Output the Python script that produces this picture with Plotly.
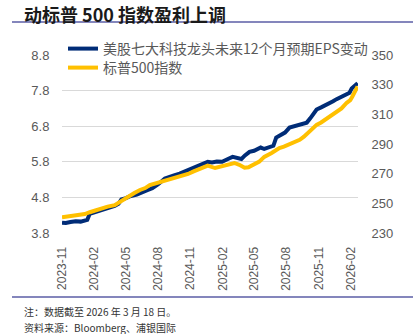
import plotly.graph_objects as go

# ---- data ----
eps_dates = ["2023-11-01", "2023-11-12", "2023-11-25", "2023-12-10", "2023-12-24", "2024-01-05",
             "2024-01-12", "2024-01-19", "2024-02-01", "2024-02-15", "2024-03-01", "2024-03-15",
             "2024-03-30", "2024-04-10", "2024-04-18", "2024-05-01", "2024-05-15", "2024-06-01",
             "2024-06-15", "2024-07-01", "2024-07-15", "2024-08-01", "2024-08-20", "2024-09-01",
             "2024-09-15", "2024-10-01", "2024-10-15", "2024-11-01", "2024-11-15", "2024-12-01",
             "2024-12-20", "2025-01-01", "2025-01-15", "2025-01-30", "2025-02-10", "2025-02-20",
             "2025-03-01", "2025-03-12", "2025-03-26", "2025-04-05", "2025-04-18", "2025-05-01",
             "2025-05-10", "2025-05-20", "2025-05-30", "2025-06-12", "2025-06-25", "2025-07-03",
             "2025-07-15", "2025-07-28", "2025-08-10", "2025-08-22", "2025-09-05", "2025-09-18",
             "2025-09-28", "2025-10-08", "2025-10-18", "2025-10-26", "2025-11-08", "2025-11-20",
             "2025-12-02", "2025-12-12", "2025-12-22", "2025-12-31", "2026-01-10", "2026-01-20",
             "2026-01-28", "2026-02-03", "2026-02-10", "2026-02-16", "2026-02-20"]
eps_values = [4.09, 4.08, 4.11, 4.13, 4.12, 4.16, 4.17, 4.34, 4.38, 4.42, 4.47, 4.50,
              4.56, 4.62, 4.74, 4.78, 4.84, 4.88, 4.95, 5.00, 5.06, 5.17, 5.33, 5.36,
              5.42, 5.47, 5.53, 5.60, 5.66, 5.72, 5.80, 5.78, 5.81, 5.80, 5.84, 5.90,
              5.94, 5.92, 5.88, 5.98, 6.08, 6.11, 6.16, 6.20, 6.16, 6.20, 6.25, 6.48,
              6.55, 6.62, 6.76, 6.79, 6.83, 6.88, 6.90, 7.02, 7.18, 7.27, 7.33, 7.38,
              7.46, 7.50, 7.56, 7.60, 7.64, 7.69, 7.74, 7.86, 7.92, 7.96, 8.01]

spx_dates = ["2023-11-01", "2023-11-15", "2023-12-01", "2023-12-20", "2024-01-05", "2024-01-19",
             "2024-02-05", "2024-02-20", "2024-03-10", "2024-03-30", "2024-04-20", "2024-05-11",
             "2024-05-25", "2024-06-10", "2024-06-25", "2024-07-08", "2024-07-25", "2024-08-20",
             "2024-09-01", "2024-09-15", "2024-10-10", "2024-10-25", "2024-11-10", "2024-11-25",
             "2024-12-10", "2024-12-20", "2025-01-10", "2025-01-25", "2025-02-05", "2025-02-20",
             "2025-03-06", "2025-03-20", "2025-04-04", "2025-04-15", "2025-04-25", "2025-05-05",
             "2025-05-16", "2025-05-30", "2025-06-10", "2025-06-20", "2025-07-01", "2025-07-12",
             "2025-07-25", "2025-08-10", "2025-08-25", "2025-09-08", "2025-09-20", "2025-10-01",
             "2025-10-12", "2025-10-26", "2025-11-08", "2025-11-20", "2025-12-05", "2025-12-22",
             "2026-01-05", "2026-01-20", "2026-01-30", "2026-02-05", "2026-02-12", "2026-02-20"]
spx_values = [240.6, 241.0, 241.8, 242.5, 242.8, 244.0, 245.5, 246.5, 247.8, 248.8, 252.0, 255.5,
              257.0, 259.0, 260.3, 262.3, 263.5, 265.2, 265.9, 266.8, 268.4, 269.8, 271.5, 272.8,
              274.2, 275.4, 273.8, 274.6, 275.5, 276.2, 277.2, 276.0, 274.0, 274.3, 275.5, 276.8,
              278.1, 281.3, 282.4, 284.0, 285.6, 287.3, 288.2, 289.8, 291.0, 292.8, 294.9, 297.5,
              300.0, 302.9, 304.5, 306.5, 308.5, 311.0, 314.0, 317.8, 319.5, 322.0, 325.5, 328.8]

tick_vals = ["2023-11-01", "2024-02-01", "2024-05-01", "2024-08-01", "2024-11-01",
             "2025-02-01", "2025-05-01", "2025-08-01", "2025-11-01", "2026-02-01"]
tick_text = ["2023-11", "2024-02", "2024-05", "2024-08", "2024-11",
             "2025-02", "2025-05", "2025-08", "2025-11", "2026-02"]

left_ticks = [3.8, 4.8, 5.8, 6.8, 7.8, 8.8]
right_ticks = [230, 250, 270, 290, 310, 330, 350]

name_eps = "美股七大科技龙头未来12个月预期EPS变动"
name_spx = "标普500指数"
title_text = "动标普 500 指数盈利上调"
note_text = "注：数据截至 2026 年 3 月 18 日。"
source_text = "资料来源：Bloomberg、浦银国际"

BLUE = "#002C77"
YELLOW = "#FFC000"
GRAY = "#595959"
RULE = "#5B5EA6"
FONT = "Noto Sans CJK SC"

fig = go.Figure()
fig.add_trace(go.Scatter(x=eps_dates, y=eps_values, name=name_eps, mode="lines",
                         line=dict(color=BLUE, width=4), yaxis="y", legend="legend"))
fig.add_trace(go.Scatter(x=spx_dates, y=spx_values, name=name_spx, mode="lines",
                         line=dict(color=YELLOW, width=4), yaxis="y2", legend="legend2"))

W, H = 419, 334
L, R, T, B = 62, 419 - 358, 55, 334 - 233
PW, PH = W - L - R, H - T - B


def px(x):
    return (x - L) / PW


def py(y):
    return (H - B - y) / PH


legend_common = dict(xanchor="left", yanchor="top", bgcolor="rgba(0,0,0,0)",
                     font=dict(size=14, color=GRAY, family=FONT))

fig.update_layout(
    width=W, height=H,
    margin=dict(l=L, r=R, t=T, b=B, autoexpand=False),
    paper_bgcolor="white", plot_bgcolor="white",
    font=dict(family=FONT, color=GRAY, size=12),
    showlegend=True,
    legend=dict(x=px(63), y=py(33), **legend_common),
    legend2=dict(x=px(63), y=py(52), **legend_common),
    xaxis=dict(type="date", range=["2023-11-01", "2026-02-21"],
               tickmode="array", tickvals=tick_vals, ticktext=tick_text, tickangle=-90,
               showgrid=False, zeroline=False, showline=False, automargin=False,
               ticks="outside", ticklen=8, tickcolor="rgba(0,0,0,0)",
               tickfont=dict(size=12, color=GRAY, family="Liberation Sans")),
    yaxis=dict(range=[3.8, 8.8], tickmode="array", tickvals=left_ticks,
               ticktext=[f"{v:.1f}" for v in left_ticks],
               showgrid=True, gridcolor="#D9D9D9", gridwidth=1, zeroline=False,
               automargin=False,
               ticks="outside", ticklen=9, tickcolor="rgba(0,0,0,0)",
               tickfont=dict(size=13, color=GRAY, family="Liberation Sans")),
    yaxis2=dict(range=[230, 350], tickmode="array", tickvals=right_ticks,
                overlaying="y", side="right", anchor="x",
                showgrid=False, zeroline=False, automargin=False,
                ticks="outside", ticklen=10, tickcolor="rgba(0,0,0,0)",
                tickfont=dict(size=13, color=GRAY, family="Liberation Sans")),
)

# title, rules and footnotes
fig.add_annotation(text="<b>" + title_text + "</b>", xref="paper", yref="paper",
                   x=px(22), y=py(14), xanchor="left", yanchor="middle", showarrow=False,
                   font=dict(size=18, color="#1A1A1A", family=FONT))
fig.add_shape(type="line", xref="paper", yref="paper",
              x0=px(12), x1=px(413), y0=py(22), y1=py(22),
              line=dict(color=RULE, width=1.5))
fig.add_shape(type="line", xref="paper", yref="paper",
              x0=px(12), x1=px(413), y0=py(297), y1=py(297),
              line=dict(color=RULE, width=1.5))
fig.add_annotation(text=note_text, xref="paper", yref="paper",
                   x=px(22), y=py(311), xanchor="left", yanchor="middle", showarrow=False,
                   font=dict(size=10, color="#333333", family=FONT))
fig.add_annotation(text=source_text, xref="paper", yref="paper",
                   x=px(22), y=py(327), xanchor="left", yanchor="middle", showarrow=False,
                   font=dict(size=10, color="#333333", family=FONT))

fig.write_html("out.html")
